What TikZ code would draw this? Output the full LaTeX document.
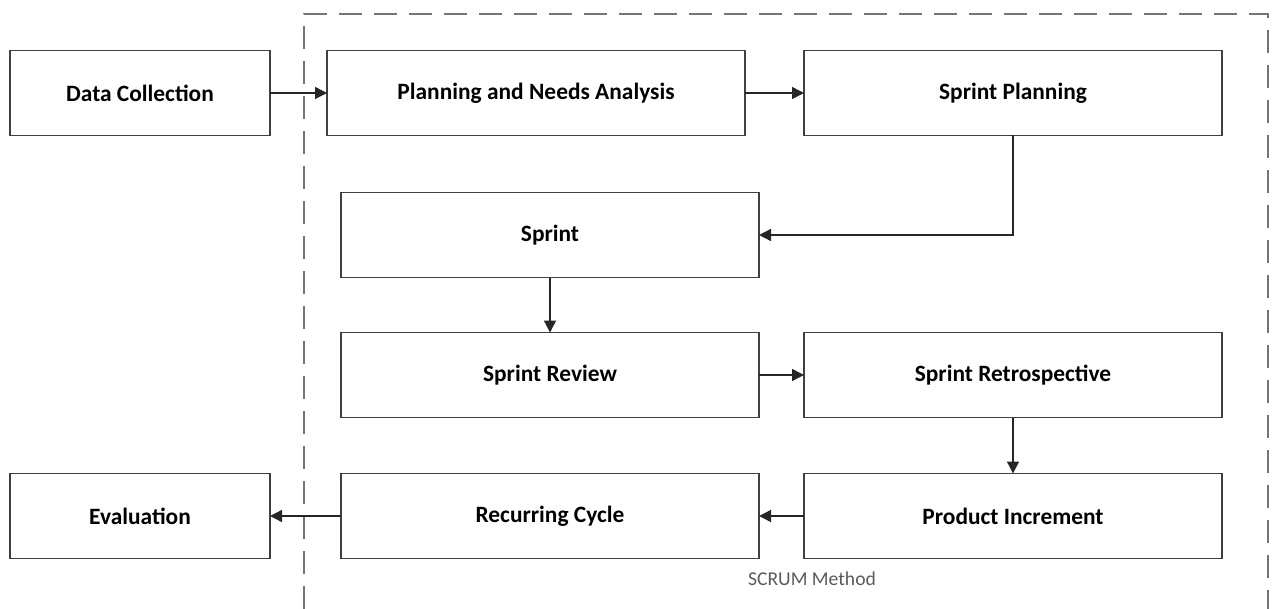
\documentclass[tikz,border=0pt]{standalone}
\usepackage{fontspec}
\setmainfont{Carlito}
\usetikzlibrary{arrows.meta}
\definecolor{boxline}{HTML}{404040}
\definecolor{frameline}{HTML}{757575}
\definecolor{notegray}{HTML}{5A5A5A}
\begin{document}
\begin{tikzpicture}[x=0.5pt, y=-0.5pt, font=\fontsize{11.7}{14}\selectfont\bfseries, line join=miter,
	every node/.style={outer sep=0pt},
	stagebox/.style={draw=boxline, line width=0.8pt, fill=white, minimum width=209pt, minimum height=42.5pt},
	endbox/.style={stagebox, minimum width=130pt},
	flow/.style={-{Triangle[length=6pt, width=6pt]}, line width=0.7pt, draw=black!85}]
	\useasboundingbox (0, 0) rectangle (1272, 609);
	
	% SCRUM frame
	\draw[frameline, line width=1pt, dash pattern=on 11.5pt off 6pt] (304, 609) -- (304, 14) -- (1268, 14) -- (1268, 609);
	
	% Stages
	\node[endbox] (data) at (140, 93) {Data Collection};
	\node[stagebox] (plan) at (536, 93) {Planning and Needs Analysis};
	\node[stagebox] (splan) at (1013, 93) {Sprint Planning};
	\node[stagebox] (sprint) at (550, 235) {Sprint};
	\node[stagebox] (review) at (550, 375) {Sprint Review};
	\node[stagebox] (retro) at (1013, 375) {Sprint Retrospective};
	\node[stagebox] (recur) at (550, 516) {Recurring Cycle};
	\node[stagebox] (incr) at (1013, 516) {Product Increment};
	\node[endbox] (eval) at (140, 516) {Evaluation};
	\node[font=\fontsize{9.8}{12}\selectfont, text=notegray] (scrum) at (812, 579) {SCRUM Method};
	
	% Flow
	\draw[flow] (data) -- (plan);
	\draw[flow] (plan) -- (splan);
	\draw[flow] (splan.south) |- (sprint.east);
	\draw[flow] (sprint) -- (review);
	\draw[flow] (review) -- (retro);
	\draw[flow] (retro) -- (incr);
	\draw[flow] (incr) -- (recur);
	\draw[flow] (recur) -- (eval);
	
\end{tikzpicture}
\end{document}
